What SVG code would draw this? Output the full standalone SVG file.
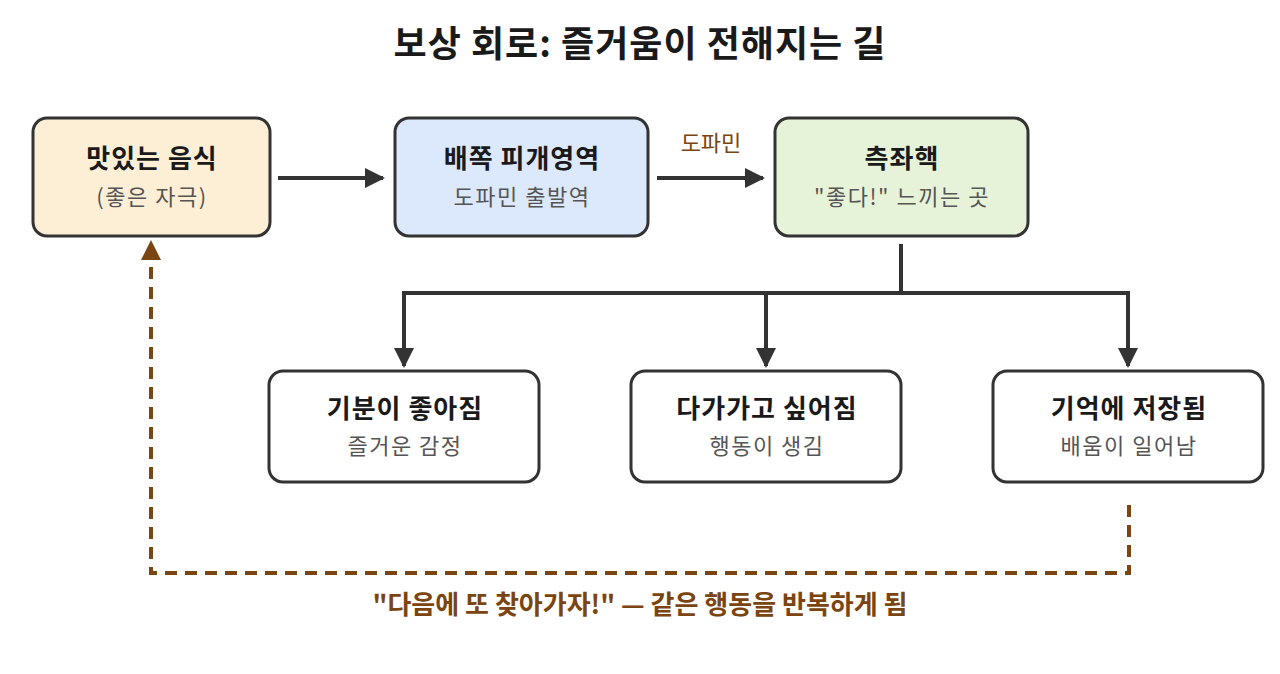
<svg xmlns="http://www.w3.org/2000/svg" width="1280" height="674" viewBox="0 0 1280 674">
<defs>
<style>
.box{stroke:#333;stroke-width:3}
.t{font-family:"Noto Sans CJK KR","Noto Sans",sans-serif;text-anchor:middle}
.h{font-size:26px;font-weight:700;fill:#1a1a1a;letter-spacing:1px}
.s{font-size:22px;fill:#555;letter-spacing:1.5px}
.c{stroke:#333;stroke-width:4;fill:none}
.fb{stroke:#7a4510;stroke-width:4;fill:none;stroke-dasharray:12 8}
</style>
<marker id="ah" viewBox="0 0 10 10" refX="9" refY="5" markerWidth="6" markerHeight="5" markerUnits="strokeWidth" orient="auto"><path d="M0,0L10,5L0,10z" fill="#333"/></marker>
<marker id="ab" viewBox="0 0 10 10" refX="9" refY="5" markerWidth="5" markerHeight="5" markerUnits="strokeWidth" orient="auto"><path d="M0,0L10,5L0,10z" fill="#7a4510"/></marker>
</defs>
<rect width="1280" height="674" fill="#fff"/>
<text class="t" x="640" y="57" font-size="36" font-weight="700" fill="#1a1a1a" letter-spacing="1">보상 회로: 즐거움이 전해지는 길</text>
<g id="connectors">
<line class="c" x1="278" y1="178" x2="383" y2="178" marker-end="url(#ah)"/>
<line class="c" x1="657" y1="178" x2="763" y2="178" marker-end="url(#ah)"/>
<text class="t" x="711" y="151" font-size="22" fill="#7a4510">도파민</text>
<path class="c" d="M901,244V293M404,293H1128"/>
<line class="c" x1="404" y1="291" x2="404" y2="366" marker-end="url(#ah)"/>
<line class="c" x1="766" y1="293" x2="766" y2="366" marker-end="url(#ah)"/>
<line class="c" x1="1128" y1="291" x2="1128" y2="366" marker-end="url(#ah)"/>
<path class="fb" d="M1129,505V573H151V242" marker-end="url(#ab)"/>
<text class="t" x="640" y="614" font-size="26" font-weight="700" fill="#7a4510">"다음에 또 찾아가자!" — 같은 행동을 반복하게 됨</text>
</g>
<g id="food"><rect class="box" x="33" y="118" width="237" height="118" rx="14" fill="#fdefd6"/><text class="t h" x="152" y="168">맛있는 음식</text><text class="t s" x="152" y="205">(좋은 자극)</text></g>
<g id="vta"><rect class="box" x="395" y="118" width="253" height="118" rx="14" fill="#dce8fb"/><text class="t h" x="522" y="168">배쪽 피개영역</text><text class="t s" x="522" y="205">도파민 출발역</text></g>
<g id="nac"><rect class="box" x="775" y="118" width="253" height="118" rx="14" fill="#e6f3d9"/><text class="t h" x="902" y="168">측좌핵</text><text class="t s" x="902" y="205">"좋다!" 느끼는 곳</text></g>
<g id="mood"><rect class="box" x="269" y="371" width="270" height="111" rx="14" fill="#fff"/><text class="t h" x="405" y="418">기분이 좋아짐</text><text class="t s" x="405" y="454">즐거운 감정</text></g>
<g id="approach"><rect class="box" x="631" y="371" width="270" height="111" rx="14" fill="#fff"/><text class="t h" x="767" y="418">다가가고 싶어짐</text><text class="t s" x="767" y="454">행동이 생김</text></g>
<g id="memory"><rect class="box" x="993" y="371" width="270" height="111" rx="14" fill="#fff"/><text class="t h" x="1129" y="418">기억에 저장됨</text><text class="t s" x="1129" y="454">배움이 일어남</text></g>
</svg>
